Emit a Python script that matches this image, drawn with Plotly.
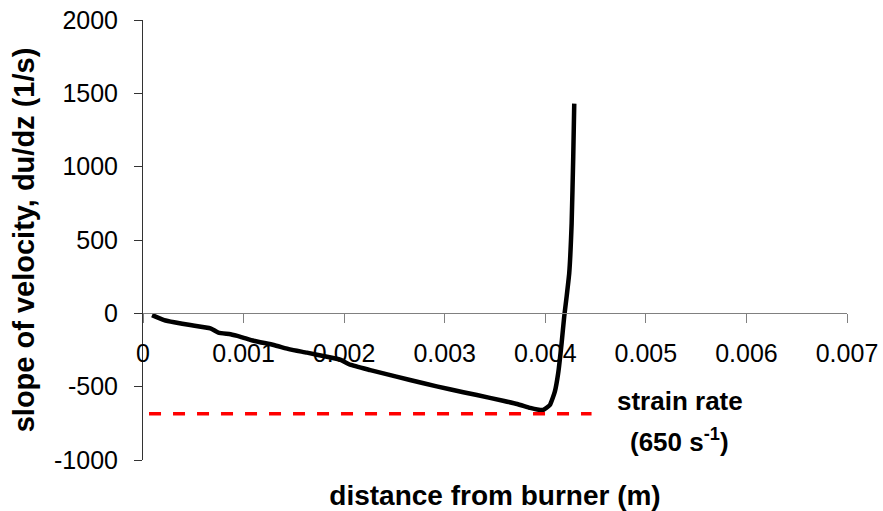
import plotly.graph_objects as go

# distance from burner (m)
dist = [0.00009, 0.00021, 0.00031, 0.00047, 0.00067, 0.00075, 0.00087, 0.00097,
        0.0011, 0.0013, 0.00146, 0.00163, 0.00183, 0.00196, 0.00206, 0.00226,
        0.00252, 0.00279, 0.00305, 0.00332, 0.00358, 0.00372, 0.00385, 0.00392,
        0.003979, 0.004046, 0.004095, 0.004128, 0.004162, 0.004188, 0.004212,
        0.004238, 0.004262, 0.004278, 0.004288]
# slope of velocity du/dz (1/s)
slope = [-12, -46, -61, -80, -102, -132, -143, -160,
         -187, -216, -246, -268, -296, -316, -350, -387,
         -432, -477, -518, -557, -596, -618, -645, -656,
         -659, -625, -534, -409, -205, -23, 113,
         273, 613, 1068, 1430]

strain_x = [0.00006, 0.00446]
strain_y = [-685, -685]

x_ticks = [0, 0.001, 0.002, 0.003, 0.004, 0.005, 0.006, 0.007]
x_ticktext = ["0", "0.001", "0.002", "0.003", "0.004", "0.005", "0.006", "0.007"]
y_ticks = [-1000, -500, 0, 500, 1000, 1500, 2000]
y_ticktext = ["-1000", "-500", "0", "500", "1000", "1500", "2000"]

FONT = "Liberation Sans, Arial, sans-serif"

fig = go.Figure()
fig.add_trace(go.Scatter(x=dist, y=slope, mode="lines",
                         line=dict(color="black", width=4.5, shape="spline", smoothing=0.4),
                         xaxis="x", yaxis="y", showlegend=False))
fig.add_trace(go.Scatter(x=strain_x, y=strain_y, mode="lines",
                         line=dict(color="#FF0000", width=3.5, dash="12px,12px"),
                         xaxis="x2", yaxis="y", showlegend=False))

fig.update_layout(
    width=883, height=511,
    margin=dict(l=143, r=36, t=20, b=51),
    paper_bgcolor="white", plot_bgcolor="white",
    font=dict(family=FONT, size=25, color="black"),
    xaxis=dict(
        range=[0, 0.007], anchor="free", position=1/3, automargin=False,
        tickvals=x_ticks, ticktext=x_ticktext,
        ticks="outside", ticklen=9, tickcolor="#808080",
        showline=True, linecolor="#808080", linewidth=1,
        showgrid=False, zeroline=False,
        ticklabelstandoff=9,
        tickfont=dict(size=25, color="black"),
    ),
    xaxis2=dict(
        range=[0, 0.007], overlaying="x", anchor="y", side="bottom", automargin=False,
        showline=False, ticks="", showticklabels=False,
        showgrid=False, zeroline=False,
        title=dict(text="<b>distance from burner (m)</b>",
                   font=dict(size=28, color="black"), standoff=28),
    ),
    yaxis=dict(
        range=[-1000, 2000], automargin=False,
        tickvals=y_ticks, ticktext=y_ticktext,
        ticks="outside", ticklen=8, tickcolor="#333333",
        showline=True, linecolor="#333333", linewidth=1,
        showgrid=False, zeroline=False,
        ticklabelstandoff=11,
        tickfont=dict(size=25, color="black"),
        title=dict(text="<b>slope of velocity, du/dz (1/s)</b>",
                   font=dict(size=29, color="black"), standoff=10),
    ),
    annotations=[
        dict(x=0.005338, y=-595, xref="x", yref="y", showarrow=False,
             text="<b>strain rate</b>", font=dict(size=26, color="black")),
        dict(x=0.005338, y=-864, xref="x", yref="y", showarrow=False,
             text="<b>(650 s<sup>-1</sup>)</b>", font=dict(size=26, color="black")),
    ],
)

fig.write_html("out.html")
